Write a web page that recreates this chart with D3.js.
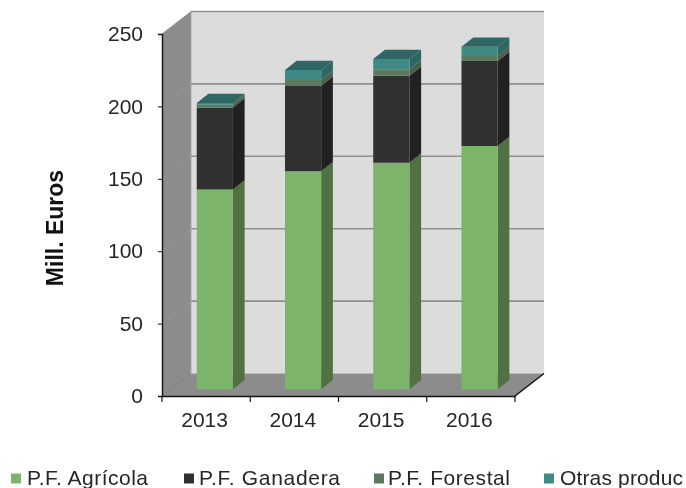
<!DOCTYPE html>
<html><head><meta charset="utf-8">
<script src="https://cdn.jsdelivr.net/npm/d3@7"></script>
<style>html,body{margin:0;padding:0;background:#fff}svg{display:block;filter:blur(0.45px)}text{font-family:"Liberation Sans",Arial,sans-serif;fill:#262626}</style>
</head><body><svg id="c" width="686" height="488"></svg>
<script>
const years = ["2013","2014","2015","2016"];
const seriesNames = ["P.F. Agrícola","P.F. Ganadera","P.F. Forestal","Otras produc"];
const agricola = [138,150.5,156.5,168];
const ganadera = [56.5,59,60,58.7];
const forestal = [2,4,4.5,3.5];
const otras = [1.2,7,7,6.3];
const frontColors = ["#7db46c","#303030","#5c7a60","#3f8a85"];
const sideColors = ["#517142","#212121","#48604c","#2f6664"];
const topColor = "#2f6664";
const yTicks = [0,50,100,150,200,250];

const svg = d3.select("#c");
const x = d3.scaleBand().domain(years).range([162,515]).paddingInner(0.59).paddingOuter(0.295);
const y = d3.scaleLinear().domain([0,250]).range([396,34]);
const depth = {dx:29, dy:-22.5};
const wall = "#dcdcdc", side = "#8c8c8c", grid = "#8f8f8f";
const [xL,xR] = x.range(), [y0,yT] = y.range();
const poly = (pts,fill,stroke)=>svg.append("polygon").attr("points",pts.map(p=>p.join(",")).join(" ")).attr("fill",fill).attr("stroke",stroke||"none");

// walls and floor
poly([[xL+depth.dx,yT+depth.dy],[xR+depth.dx,yT+depth.dy],[xR+depth.dx,y0+depth.dy],[xL+depth.dx,y0+depth.dy]],wall);
poly([[xL,yT],[xL+depth.dx,yT+depth.dy],[xL+depth.dx,y0+depth.dy],[xL,y0]],side);
poly([[xL,y0],[xL+depth.dx,y0+depth.dy],[xR+depth.dx,y0+depth.dy],[xR,y0]],side);
// gridlines
yTicks.forEach(t=>{
  if(t>0) svg.append("line").attr("x1",xL+depth.dx).attr("x2",xR+depth.dx).attr("y1",y(t)+depth.dy).attr("y2",y(t)+depth.dy).attr("stroke",grid).attr("stroke-width",1.6);
  svg.append("line").attr("x1",xL).attr("x2",xL+depth.dx).attr("y1",y(t)).attr("y2",y(t)+depth.dy).attr("stroke",t===0?"#7a7a7a":"#969696").attr("stroke-width",1);
});
svg.append("line").attr("x1",xL+depth.dx).attr("x2",xL+depth.dx).attr("y1",yT+depth.dy).attr("y2",y0+depth.dy).attr("stroke","#a8a8a8");
svg.append("line").attr("x1",xR+depth.dx).attr("x2",xR).attr("y1",y0+depth.dy).attr("y2",y0).attr("stroke","#111").attr("stroke-width",1.5);

// bars
const bd = {t:0.3, dx:11.7, dy:-9.3};
const stacks = [agricola,ganadera,forestal,otras];
years.forEach((yr,i)=>{
  const left = x(yr)+bd.t*depth.dx, w = x.bandwidth();
  const py = v => y(v)+bd.t*depth.dy;
  let base = 0;
  stacks.forEach((s,k)=>{
    const top = base+s[i];
    poly([[left+w,py(base)],[left+w+bd.dx,py(base)+bd.dy],[left+w+bd.dx,py(top)+bd.dy],[left+w,py(top)]],sideColors[k]);
    poly([[left,py(base)],[left+w,py(base)],[left+w,py(top)],[left,py(top)]],frontColors[k]);
    if(k===stacks.length-1) poly([[left,py(top)],[left+w,py(top)],[left+w+bd.dx,py(top)+bd.dy],[left+bd.dx,py(top)+bd.dy]],topColor);
    base = top;
  });
});

// axes
const ay = svg.append("g").attr("transform",`translate(${xL},0)`).call(d3.axisLeft(y).tickValues(yTicks).tickSize(4).tickPadding(15));
const ax = svg.append("g").attr("transform",`translate(0,${y0})`).call(d3.axisBottom(x).tickValues(years).tickSize(0).tickPadding(16));
[0,1,2,3,4].forEach(n=>{
  const tx = n<4 ? x.step()*n+xL : xR;
  ax.append("line").attr("x1",tx).attr("x2",tx).attr("y1",0).attr("y2",6).attr("stroke","#111").attr("stroke-width",1.2);
});
[ay,ax].forEach(a=>{a.selectAll("path").attr("stroke","#111").attr("stroke-width",1.4);a.selectAll(".tick line").attr("stroke","#111");a.selectAll("text").attr("font-size",21).attr("font-family","Liberation Sans").attr("fill","#262626");});
ax.selectAll(".tick text").attr("dx",-1.5);

svg.append("text").attr("transform","translate(62.5,228) rotate(-90)").attr("text-anchor","middle").attr("font-size",23).attr("font-weight","bold").style("fill","#111").text("Mill. Euros");

// legend
const legendSwatch = [11,184,374,544], legendText = [27,199,388,560], legendWidth = [121,141,122,123];
seriesNames.forEach((n,i)=>{
  svg.append("rect").attr("x",legendSwatch[i]).attr("y",473.5).attr("width",10).attr("height",10).attr("fill",frontColors[i]);
  svg.append("text").attr("x",legendText[i]).attr("y",485).attr("font-size",21).attr("textLength",legendWidth[i]).attr("lengthAdjust","spacing").text(n);
});
</script></body></html>
